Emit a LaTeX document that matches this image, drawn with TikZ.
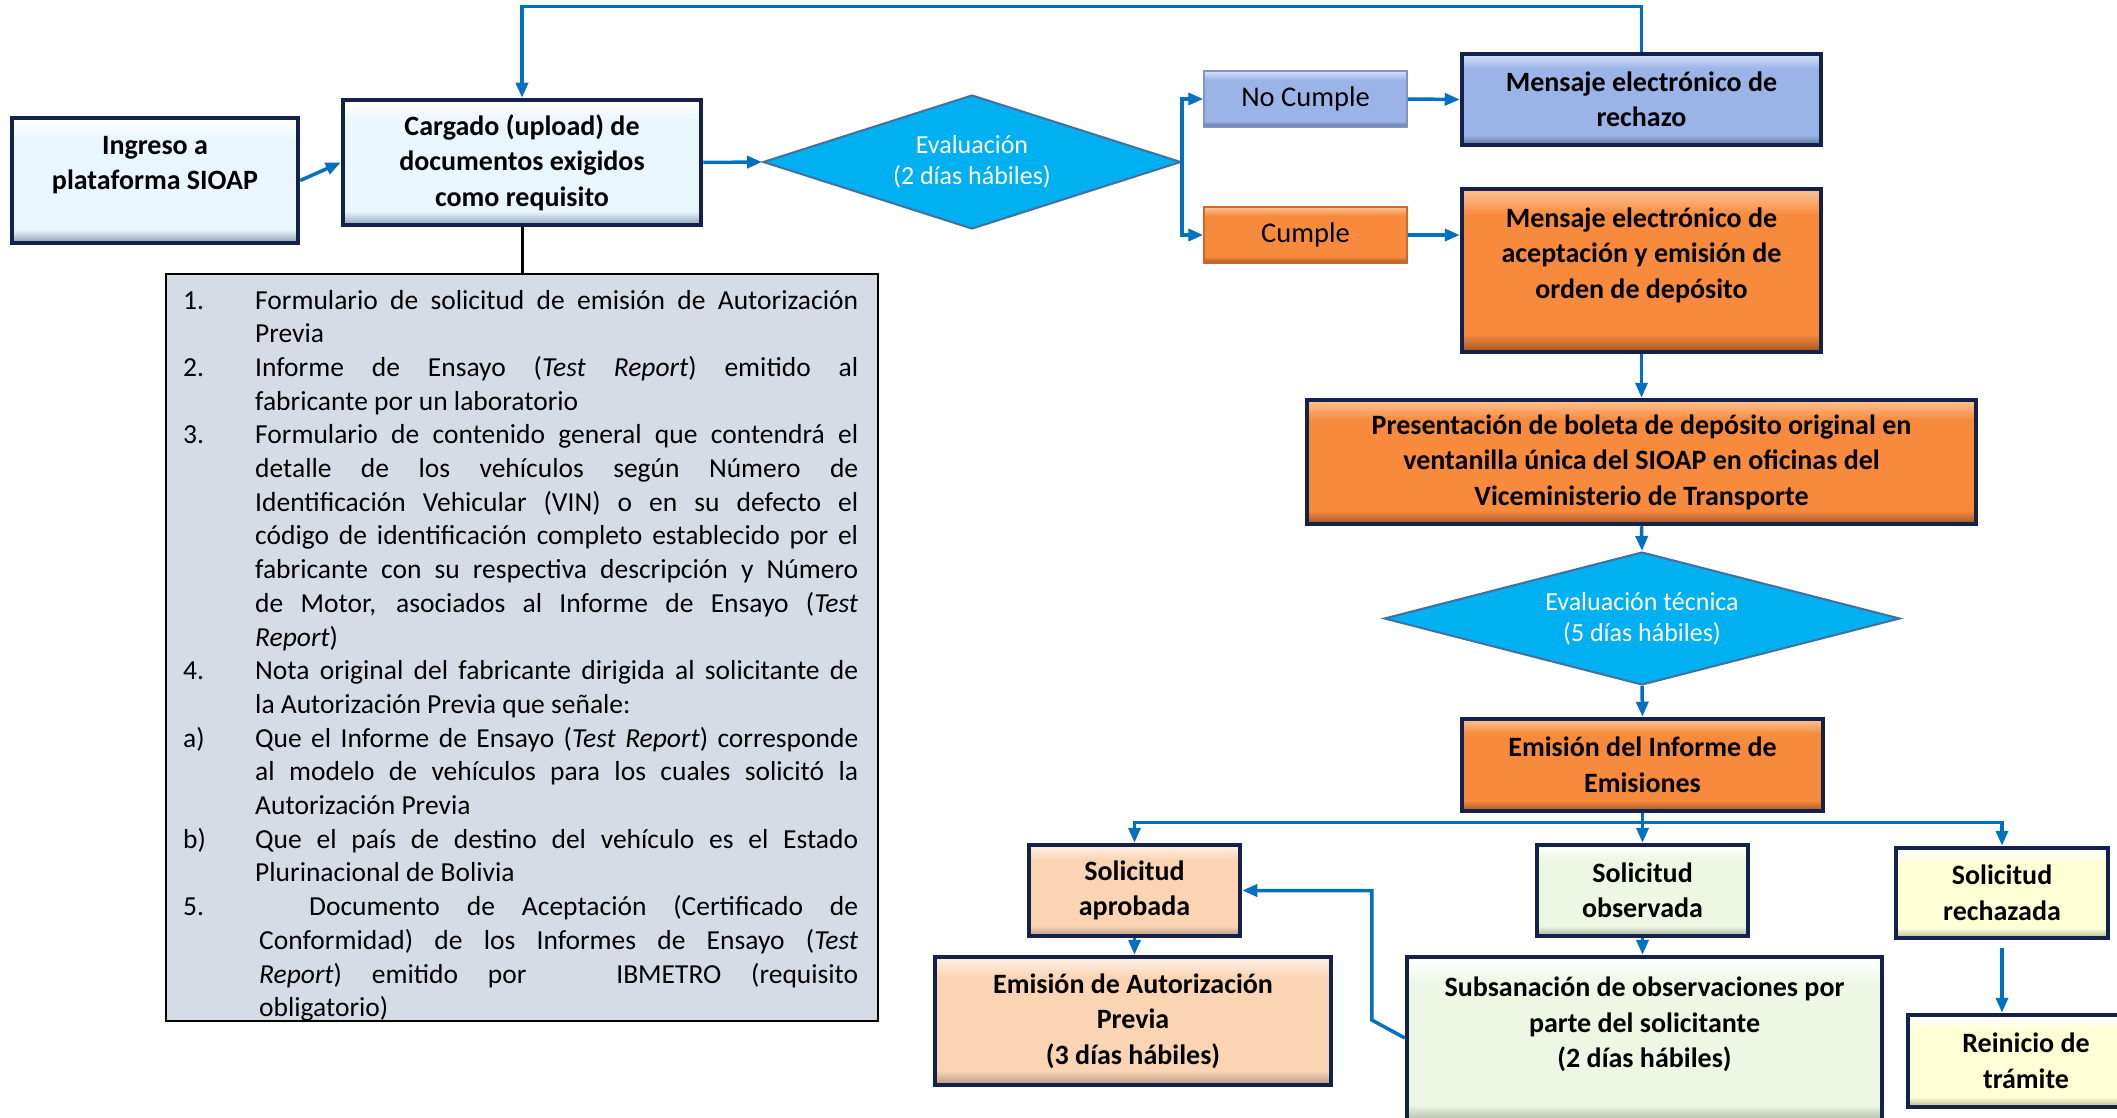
\documentclass[tikz,border=0pt]{standalone}
\usepackage{fontspec}
\setmainfont{Carlito}
\usetikzlibrary{arrows.meta,shapes.geometric,calc}
\definecolor{cNavy}{HTML}{14224B}
\definecolor{cArrow}{HTML}{0070C0}
\definecolor{cCyan}{HTML}{00B0F0}
\definecolor{cDiaB}{HTML}{41719C}
\definecolor{cList}{HTML}{D6DCE5}
\definecolor{lbL}{HTML}{FFFFFF}\definecolor{lbM}{HTML}{EAF6FD}\definecolor{lbD}{HTML}{97A8BC}
\definecolor{blL}{HTML}{CFDCF7}\definecolor{blM}{HTML}{9BB4E8}\definecolor{blD}{HTML}{62779F}
\definecolor{orL}{HTML}{FCBE8C}\definecolor{orM}{HTML}{F78A3C}\definecolor{orD}{HTML}{A85A27}
\definecolor{peL}{HTML}{FEEEE1}\definecolor{peM}{HTML}{FBD4B4}\definecolor{peD}{HTML}{BA9C84}
\definecolor{grL}{HTML}{FFFFFF}\definecolor{grM}{HTML}{EDF7E4}\definecolor{grD}{HTML}{AEB9A5}
\definecolor{yeL}{HTML}{FFFFFF}\definecolor{yeM}{HTML}{FFFFD6}\definecolor{yeD}{HTML}{BDBD9C}
\definecolor{nbB}{HTML}{7F93C4}
\definecolor{cuB}{HTML}{C9692C}
% visible range of a TikZ shading is 25bp..75bp
\newcommand\mkbevel[4]{\pgfdeclareverticalshading{#1}{100bp}{color(0bp)=(#4); color(25.5bp)=(#4); color(30.5bp)=(#3); color(67bp)=(#3); color(74bp)=(#2); color(100bp)=(#2)}}
\mkbevel{bvLB}{lbL}{lbM}{lbD}
\mkbevel{bvBL}{blL}{blM}{blD}
\mkbevel{bvOR}{orL}{orM}{orD}
\mkbevel{bvPE}{peL}{peM}{peD}
\mkbevel{bvGR}{grL}{grM}{grD}
\mkbevel{bvYE}{yeL}{yeM}{yeD}
\newcommand\reqitem[3]{\noindent\hangindent=#2\hangafter=1\relax\makebox[#2][l]{#1}#3\par}
\begin{document}
\begin{tikzpicture}[x=1pt,y=-1pt,
  box/.style={draw=cNavy, line width=4.5pt, inner sep=0pt, align=center,
    font=\fontsize{28}{35.5}\selectfont\bfseries, shade},
  tag/.style={line width=1.5pt, inner sep=0pt, align=center,
    font=\fontsize{28.5}{34}\selectfont, shade},
  dia/.style={diamond, fill=cCyan, draw=cDiaB, line width=2pt, inner sep=0pt,
    align=center, text=white, font=\fontsize{26}{31}\selectfont},
  conn/.style={draw=cArrow, line width=3.5pt},
  arr/.style={conn, -{Triangle[length=15pt,width=12pt]}}]
\useasboundingbox (0,0) rectangle (2117,1118);
\clip (0,0) rectangle (2117,1118);
\fill[white] (0,0) rectangle (2117,1118);

% left column
\node[box, shading=bvLB, minimum width=286pt, minimum height=125pt] (ingreso) at (155,180.5) {Ingreso a\\plataforma SIOAP\\\mbox{}};
\node[box, shading=bvLB, minimum width=358pt, minimum height=125pt] (cargado) at (522,162.5) {Cargado (upload) de\\documentos exigidos\\como requisito};
\node[draw=black, line width=2pt, fill=cList, minimum width=712pt, minimum height=747pt, inner sep=0pt] (reqbox) at (522,647.5) {};
\node[anchor=base west, inner sep=0pt, text width=675pt, align=justify,
  font=\fontsize{27.5}{33.7}\selectfont] (reqtext) at (183,309) {%
\tolerance=10000\emergencystretch=20pt
\reqitem{1.}{72pt}{Formulario de solicitud de emisión de Autorización\linebreak Previa}
\reqitem{2.}{72pt}{Informe de Ensayo (\textit{Test Report}) emitido al\linebreak fabricante por un laboratorio}
\reqitem{3.}{72pt}{Formulario de contenido general que contendrá el\linebreak detalle de los vehículos según Número de\linebreak Identificación Vehicular (VIN) o en su defecto el\linebreak código de identificación completo establecido por el\linebreak fabricante con su respectiva descripción y Número\linebreak de Motor, asociados al Informe de Ensayo (\textit{Test}\linebreak \textit{Report})}
\reqitem{4.}{72pt}{Nota original del fabricante dirigida al solicitante de\linebreak la Autorización Previa que señale:}
\reqitem{a)}{72pt}{Que el Informe de Ensayo (\textit{Test Report}) corresponde\linebreak al modelo de vehículos para los cuales solicitó la\linebreak Autorización Previa}
\reqitem{b)}{72pt}{Que el país de destino del vehículo es el Estado\linebreak Plurinacional de Bolivia}
\reqitem{5.}{76pt}{\hspace{50pt}Documento de Aceptación (Certificado de\linebreak Conformidad) de los Informes de Ensayo (\textit{Test}\linebreak \textit{Report}) emitido por\hspace{60pt} IBMETRO (requisito\linebreak obligatorio)}%
};

% first evaluation
\node[dia, aspect=3.12, minimum width=418pt, minimum height=134pt] (eval) at (972,162) {Evaluación\\(2 días hábiles)};
\node[tag, shading=bvBL, draw=nbB, minimum width=203pt, minimum height=56pt] (nocumple) at (1305.5,99) {No Cumple};
\node[tag, shading=bvOR, draw=cuB, minimum width=203pt, minimum height=56pt] (cumple) at (1305.5,235) {Cumple};
\node[box, shading=bvBL, minimum width=359pt, minimum height=91pt] (rechazoMsg) at (1641.5,99.5) {Mensaje electrónico de\\rechazo};
\node[box, shading=bvOR, minimum width=359pt, minimum height=163pt] (aceptMsg) at (1641.5,270.5) {Mensaje electrónico de\\aceptación y emisión de\\orden de depósito\\\mbox{}};
\node[box, shading=bvOR, minimum width=669pt, minimum height=124pt] (present) at (1641.5,462) {Presentación de boleta de depósito original en\\ventanilla única del SIOAP en oficinas del\\Viceministerio de Transporte};
\node[dia, aspect=3.88, minimum width=516pt, minimum height=133pt] (eval2) at (1642,618.5) {Evaluación técnica\\(5 días hábiles)};
\node[box, shading=bvOR, minimum width=361pt, minimum height=92pt] (emisInf) at (1642.5,765) {Emisión del Informe de\\Emisiones};

% outcomes
\node[box, shading=bvPE, minimum width=211pt, minimum height=91pt] (aprob) at (1134.5,890.5) {Solicitud\\aprobada};
\node[box, shading=bvGR, minimum width=211pt, minimum height=91pt] (observ) at (1642.5,890.5) {Solicitud\\observada};
\node[box, shading=bvYE, minimum width=212pt, minimum height=90pt] (rechaz) at (2002,893) {Solicitud\\rechazada};
\node[box, shading=bvPE, minimum width=396pt, minimum height=128pt] (emisAut) at (1133,1021) {Emisión de Autorización\\Previa\\(3 días hábiles)};
\node[box, shading=bvGR, minimum width=475pt, minimum height=166pt] (subsan) at (1644.5,1040) {Subsanación de observaciones por\\parte del solicitante\\(2 días hábiles)\\\mbox{}};
\node[box, shading=bvYE, minimum width=236pt, minimum height=92pt] (reinicio) at (2026,1061) {Reinicio de\\trámite};

% connectors
\draw[arr] (ingreso.east) -- (cargado.west);
\draw[arr] (cargado.east) -- (eval.west);
\draw[black, line width=3pt] (cargado.south) -- (cargado.south |- reqbox.north);
\draw[arr] (eval.east) |- (nocumple.west);
\draw[arr] (eval.east) |- (cumple.west);
\draw[arr] (nocumple.east) -- (rechazoMsg.west);
\draw[arr] (cumple.east) -- (cumple.east -| aceptMsg.west);
\draw[arr] (rechazoMsg.north) -- ++(0,-45) -| (cargado.north);
\draw[arr] (aceptMsg.south) -- (present.north);
\draw[arr] (present.south) -- (eval2.north);
\draw[arr] (eval2.south) -- (emisInf.south |- emisInf.north);
\draw[conn] (emisInf.south) -- ++(0,9) coordinate (split);
\draw[arr] (split) -| (aprob.north);
\draw[arr] (split) -| (rechaz.north);
\draw[arr] (emisInf.south) -- (observ.north);
\draw[arr] (aprob.south) -- (aprob.south |- emisAut.north);
\draw[arr] (observ.south) -- (observ.south |- subsan.north);
\draw[arr] ([yshift=-8pt]rechaz.south) -- (rechaz.south |- reinicio.north);
\draw[arr] ([yshift=2pt]subsan.west) -- ++(-33,-18) |- (aprob.east);
\end{tikzpicture}
\end{document}
